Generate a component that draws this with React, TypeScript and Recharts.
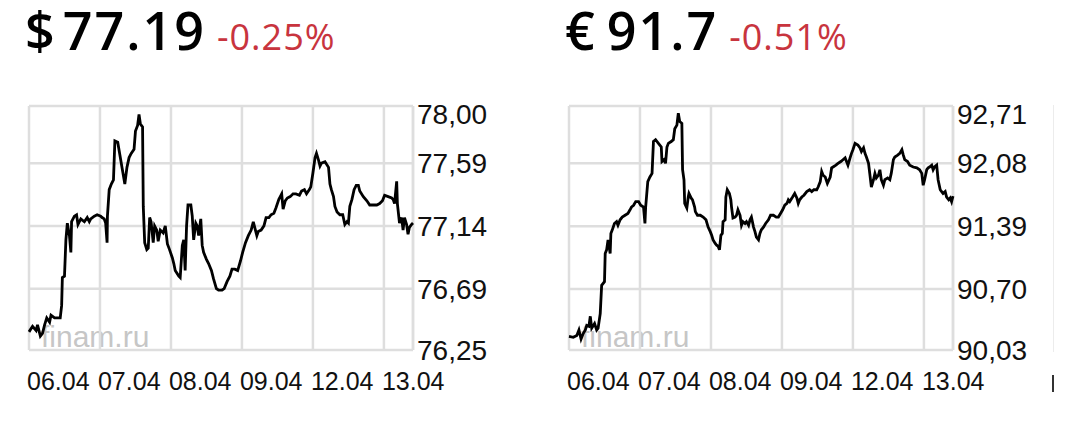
import React from "react";
import { LineChart, Line, XAxis, YAxis, CartesianGrid, ReferenceLine } from "recharts";

const GRID_COLOR = "#dedede";
const RED = "#c8343e";
const PANEL_WIDTH = 540;

const dayLabels = ["06.04", "07.04", "08.04", "09.04", "12.04", "13.04"];
const dayTicks = [0, 1, 2, 3, 4, 5];
const DAY_END = 5.41;

const usdTicks = [76.25, 76.69, 77.14, 77.59, 78.0];
const eurTicks = [90.03, 90.7, 91.39, 92.08, 92.71];

// [day offset, rate]
const usdRates: [number, number][] = [
    [0.0, 76.38], [0.05, 76.42], [0.1, 76.39], [0.12, 76.43], [0.16, 76.35], [0.19, 76.37], [0.22, 76.43],
    [0.25, 76.48], [0.29, 76.45], [0.31, 76.5], [0.36, 76.48], [0.4, 76.48], [0.44, 76.48], [0.46, 76.57],
    [0.47, 76.77], [0.5, 76.78], [0.52, 77.04], [0.54, 77.16], [0.57, 77.07], [0.59, 76.95], [0.6, 77.17],
    [0.64, 77.21], [0.67, 77.22], [0.69, 77.15], [0.73, 77.19], [0.78, 77.17], [0.82, 77.2], [0.85, 77.17],
    [0.87, 77.19], [0.92, 77.21], [0.96, 77.22], [1.01, 77.21], [1.03, 77.2], [1.06, 77.19], [1.08, 77.16],
    [1.1, 77.02], [1.105, 77.21], [1.13, 77.4], [1.16, 77.44], [1.19, 77.47], [1.21, 77.75], [1.25, 77.74],
    [1.28, 77.65], [1.32, 77.53], [1.35, 77.44], [1.38, 77.56], [1.41, 77.63], [1.44, 77.66], [1.48, 77.69],
    [1.5, 77.82], [1.53, 77.86], [1.55, 77.94], [1.57, 77.87], [1.6, 77.85], [1.61, 77.28], [1.63, 77.02],
    [1.66, 76.97], [1.68, 76.98], [1.7, 77.2], [1.72, 77.17], [1.75, 77.02], [1.77, 77.14], [1.8, 77.11],
    [1.82, 77.03], [1.85, 77.11], [1.89, 77.09], [1.92, 77.14], [1.95, 77.01], [1.98, 76.97], [2.02, 76.91],
    [2.04, 76.87], [2.06, 76.82], [2.11, 76.78], [2.13, 76.77], [2.16, 77.0], [2.18, 77.04], [2.2, 76.82],
    [2.22, 77.14], [2.24, 77.29], [2.28, 77.29], [2.3, 77.21], [2.32, 77.04], [2.35, 77.16], [2.37, 77.14],
    [2.39, 77.07], [2.42, 77.19], [2.44, 77.0], [2.46, 76.95], [2.5, 76.9], [2.53, 76.87], [2.57, 76.82],
    [2.6, 76.76], [2.64, 76.69], [2.67, 76.68], [2.72, 76.68], [2.75, 76.69], [2.79, 76.74], [2.83, 76.78],
    [2.86, 76.83], [2.9, 76.83], [2.94, 76.82], [2.98, 76.89], [3.01, 76.95], [3.05, 77.02], [3.09, 77.07],
    [3.13, 77.11], [3.16, 77.17], [3.19, 77.11], [3.21, 77.07], [3.23, 77.1], [3.27, 77.11], [3.31, 77.14],
    [3.34, 77.2], [3.38, 77.2], [3.41, 77.22], [3.45, 77.23], [3.48, 77.27], [3.52, 77.33], [3.54, 77.35],
    [3.56, 77.37], [3.58, 77.26], [3.61, 77.32], [3.64, 77.34], [3.68, 77.35], [3.72, 77.37], [3.76, 77.37],
    [3.81, 77.36], [3.84, 77.39], [3.88, 77.4], [3.91, 77.37], [3.95, 77.4], [3.97, 77.42], [4.0, 77.52],
    [4.03, 77.63], [4.05, 77.66], [4.08, 77.61], [4.1, 77.57], [4.12, 77.59], [4.17, 77.6], [4.22, 77.56],
    [4.24, 77.44], [4.26, 77.4], [4.29, 77.35], [4.31, 77.28], [4.34, 77.24], [4.38, 77.22], [4.42, 77.22],
    [4.45, 77.15], [4.48, 77.17], [4.5, 77.16], [4.52, 77.28], [4.55, 77.33], [4.58, 77.4], [4.61, 77.43],
    [4.64, 77.43], [4.66, 77.39], [4.71, 77.35], [4.76, 77.32], [4.8, 77.29], [4.85, 77.29], [4.9, 77.29],
    [4.94, 77.3], [4.98, 77.32], [5.01, 77.36], [5.06, 77.35], [5.11, 77.34], [5.13, 77.33], [5.15, 77.3],
    [5.18, 77.46], [5.19, 77.3], [5.22, 77.16], [5.25, 77.2], [5.27, 77.11], [5.29, 77.2], [5.32, 77.15],
    [5.34, 77.08], [5.36, 77.13], [5.39, 77.15], [5.41, 77.16],
];

const eurRates: [number, number][] = [
    [0.0, 90.18], [0.06, 90.17], [0.11, 90.19], [0.14, 90.25], [0.17, 90.15], [0.2, 90.21], [0.23, 90.25],
    [0.25, 90.3], [0.28, 90.29], [0.3, 90.4], [0.32, 90.27], [0.36, 90.32], [0.39, 90.25], [0.41, 90.27],
    [0.44, 90.43], [0.46, 90.74], [0.5, 90.78], [0.51, 91.09], [0.53, 91.13], [0.55, 91.24], [0.58, 91.09],
    [0.59, 91.31], [0.61, 91.35], [0.64, 91.42], [0.67, 91.44], [0.69, 91.4], [0.72, 91.46], [0.75, 91.49],
    [0.79, 91.51], [0.83, 91.53], [0.86, 91.57], [0.88, 91.6], [0.91, 91.62], [0.94, 91.66], [0.98, 91.66],
    [1.01, 91.62], [1.05, 91.6], [1.07, 91.42], [1.08, 91.6], [1.11, 91.88], [1.14, 91.93], [1.17, 91.97],
    [1.19, 92.32], [1.22, 92.34], [1.26, 92.3], [1.3, 92.26], [1.31, 92.1], [1.34, 92.12], [1.36, 92.08],
    [1.38, 92.26], [1.4, 92.3], [1.44, 92.32], [1.47, 92.34], [1.49, 92.46], [1.52, 92.5], [1.54, 92.63],
    [1.56, 92.54], [1.59, 92.52], [1.6, 92.01], [1.62, 91.9], [1.63, 91.64], [1.66, 91.59], [1.68, 91.71],
    [1.69, 91.75], [1.72, 91.7], [1.74, 91.68], [1.77, 91.6], [1.78, 91.55], [1.81, 91.51], [1.85, 91.51],
    [1.89, 91.49], [1.93, 91.46], [1.96, 91.38], [1.99, 91.33], [2.01, 91.29], [2.03, 91.24], [2.06, 91.2],
    [2.08, 91.18], [2.1, 91.17], [2.12, 91.13], [2.14, 91.29], [2.16, 91.31], [2.17, 91.44], [2.2, 91.46],
    [2.21, 91.71], [2.23, 91.79], [2.26, 91.75], [2.28, 91.68], [2.29, 91.6], [2.31, 91.48], [2.34, 91.49],
    [2.36, 91.51], [2.38, 91.57], [2.41, 91.51], [2.43, 91.4], [2.45, 91.44], [2.48, 91.42], [2.5, 91.44],
    [2.53, 91.4], [2.55, 91.46], [2.57, 91.49], [2.6, 91.38], [2.62, 91.33], [2.64, 91.27], [2.67, 91.24],
    [2.69, 91.31], [2.71, 91.35], [2.74, 91.38], [2.77, 91.42], [2.81, 91.46], [2.84, 91.51], [2.88, 91.51],
    [2.92, 91.49], [2.95, 91.49], [2.98, 91.53], [3.01, 91.57], [3.04, 91.62], [3.07, 91.64], [3.09, 91.68],
    [3.11, 91.66], [3.15, 91.71], [3.18, 91.75], [3.21, 91.7], [3.23, 91.64], [3.25, 91.68], [3.28, 91.71],
    [3.31, 91.73], [3.35, 91.77], [3.39, 91.79], [3.42, 91.77], [3.45, 91.79], [3.49, 91.79], [3.51, 91.82],
    [3.54, 91.88], [3.56, 91.99], [3.58, 91.95], [3.61, 91.93], [3.64, 91.86], [3.68, 91.93], [3.7, 92.03],
    [3.72, 92.04], [3.76, 92.06], [3.79, 92.08], [3.83, 92.1], [3.86, 92.12], [3.89, 92.14], [3.91, 92.1],
    [3.93, 92.06], [3.96, 92.14], [3.98, 92.19], [4.0, 92.23], [4.03, 92.3], [4.07, 92.28], [4.1, 92.25],
    [4.12, 92.21], [4.15, 92.25], [4.17, 92.19], [4.19, 92.15], [4.22, 92.08], [4.24, 91.95], [4.26, 91.82],
    [4.29, 91.9], [4.31, 91.97], [4.33, 91.92], [4.36, 91.95], [4.38, 92.01], [4.4, 91.9], [4.43, 91.84],
    [4.45, 91.9], [4.49, 91.92], [4.52, 91.9], [4.54, 91.97], [4.57, 92.12], [4.59, 92.15], [4.63, 92.17],
    [4.66, 92.19], [4.69, 92.23], [4.71, 92.17], [4.73, 92.12], [4.77, 92.1], [4.8, 92.06], [4.85, 92.04],
    [4.9, 92.03], [4.94, 92.01], [4.97, 91.97], [4.99, 91.84], [5.01, 91.9], [5.04, 92.01], [5.06, 92.03],
    [5.08, 92.04], [5.11, 92.06], [5.13, 92.01], [5.15, 92.04], [5.18, 92.06], [5.2, 91.9], [5.23, 91.79],
    [5.25, 91.77], [5.27, 91.75], [5.3, 91.77], [5.32, 91.71], [5.35, 91.68], [5.37, 91.7], [5.39, 91.66],
    [5.41, 91.72],
];

const quotes = [
    { symbol: "$", price: "77.19", change: "-0.25%", rates: usdRates, ticks: usdTicks },
    { symbol: "€", price: "91.7", change: "-0.51%", rates: eurRates, ticks: eurTicks },
];

const XTick = (props: any) => {
    const { x, y, payload } = props;
    return (
        <text x={x - 2} y={y + 40} textAnchor="start" fontSize={25} fill="#111" fontFamily="Liberation Sans, Arial, sans-serif">
            {dayLabels[payload.value]}
        </text>
    );
};

const makeYTick = (top: number) => (props: any) => {
    const { x, y, payload } = props;
    // top label sits lower so it stays inside the box
    const shift = payload.value === top ? 8 : 0;
    return (
        <text x={x} y={y + shift + 10} textAnchor="start" fontSize={28} fill="#111" fontFamily="Liberation Sans, Arial, sans-serif">
            {payload.value.toFixed(2).replace(".", ",")}
        </text>
    );
};

const RateChart: React.FC<{ rates: [number, number][]; ticks: number[] }> = ({ rates, ticks }) => {
    const data = rates.map(([d, v]) => ({ d, v }));
    const top = ticks[ticks.length - 1];
    return (
        <LineChart width={505} height={395} data={data} margin={{ top: 106, right: 0, bottom: 0, left: 29 }}>
            <CartesianGrid stroke={GRID_COLOR} strokeWidth={2.5} />
            <XAxis
                dataKey="d"
                type="number"
                domain={[0, DAY_END]}
                ticks={dayTicks}
                interval={0}
                tick={<XTick />}
                tickLine={false}
                axisLine={false}
                tickSize={0}
                tickMargin={0}
                height={45}
            />
            <YAxis
                orientation="right"
                type="number"
                domain={[ticks[0], top]}
                ticks={ticks}
                interval={0}
                tick={makeYTick(top)}
                tickLine={false}
                axisLine={false}
                tickSize={0}
                tickMargin={4}
                width={92}
            />
            <ReferenceLine x={DAY_END} stroke={GRID_COLOR} strokeWidth={2.5} />
            <Line type="linear" dataKey="v" stroke="#000" strokeWidth={2.8} dot={false} isAnimationActive={false} />
        </LineChart>
    );
};

export default function App() {
    return (
        <div style={{ position: "absolute", left: 0, top: 0, width: 1080, height: 422, background: "#fff", overflow: "hidden" }}>
            {quotes.map((q, i) => (
                <div key={q.symbol} style={{ position: "absolute", left: i * PANEL_WIDTH, top: 0, width: PANEL_WIDTH, height: 422 }}>
                    <div
                        style={{
                            position: "absolute",
                            left: 25,
                            top: 2,
                            display: "flex",
                            alignItems: "baseline",
                            fontFamily: "'Open Sans', sans-serif",
                            lineHeight: "56px",
                            whiteSpace: "nowrap",
                        }}
                    >
                        <span style={{ fontSize: 52, fontWeight: 600, color: "#000" }}>{q.symbol}</span>
                        <span style={{ fontSize: 52, fontWeight: 600, color: "#000", marginLeft: i === 0 ? 8 : 12, letterSpacing: 2 }}>
                            {q.price}
                        </span>
                        <span style={{ fontSize: 36, color: RED, marginLeft: 11, letterSpacing: 1 }}>{q.change}</span>
                    </div>
                    <div
                        style={{
                            position: "absolute",
                            left: 41,
                            top: 320,
                            fontFamily: "Liberation Sans, Arial, sans-serif",
                            fontSize: 30,
                            color: "#c6c6c6",
                        }}
                    >
                        finam.ru
                    </div>
                    <div style={{ position: "absolute", left: 0, top: 0 }}>
                        <RateChart rates={q.rates} ticks={q.ticks} />
                    </div>
                </div>
            ))}
            {/* edge of the next widget, cut off */}
            <div style={{ position: "absolute", left: 1053, top: 105, width: 1, height: 247, background: "#ececec" }} />
            <div style={{ position: "absolute", left: 1052, top: 375, width: 2, height: 17, background: "#333" }} />
        </div>
    );
}
